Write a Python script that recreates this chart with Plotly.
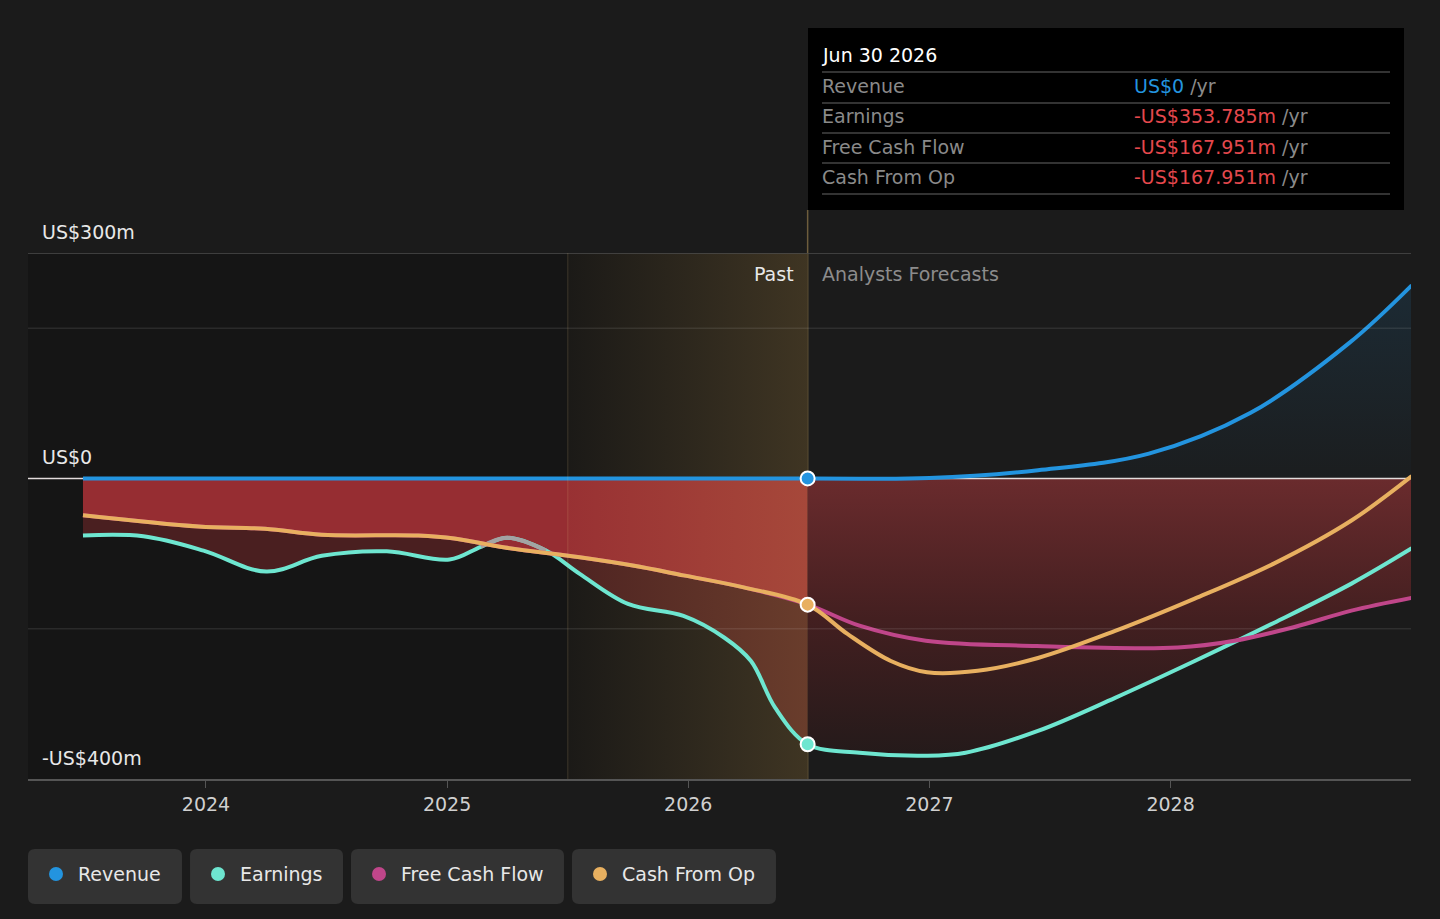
import plotly.graph_objects as go

# --- data (x in decimal years, y in US$ millions) ---
revenue_x = [2023.49, 2026.495, 2027.0, 2027.45, 2027.91, 2028.33, 2028.74, 2029.0]
revenue_y = [0, 0, 0.5, 11, 33, 87, 180, 257]

earnings_x = [2023.49, 2023.74, 2023.99, 2024.25, 2024.48, 2024.75, 2025.01, 2025.14, 2025.25, 2025.41,
              2025.55, 2025.75, 2025.98, 2026.15, 2026.26, 2026.36, 2026.495,
              2026.71, 2026.98, 2027.15, 2027.45, 2027.77, 2028.10, 2028.43, 2028.75, 2029.0]
earnings_y = [-76, -77, -96, -124, -103, -97, -108, -91, -79, -96,
              -127, -167, -183, -212, -243, -305, -353.785,
              -365, -369, -365, -336, -292, -243, -192, -140, -93]

fcf_x = [2023.49, 2023.97, 2024.245, 2024.48, 2024.88, 2025.03, 2025.24, 2025.55, 2025.77, 2025.98, 2026.23, 2026.495,
         2026.71, 2026.985, 2027.445, 2028.03, 2028.265, 2028.51, 2028.75, 2029.0]
fcf_y = [-49, -64, -67, -75, -76, -80, -92, -105, -116, -129, -145, -167.951,
         -196, -216, -223, -225, -216, -198, -176, -159]

cfo_x = [2023.49, 2023.97, 2024.245, 2024.48, 2024.88, 2025.03, 2025.24, 2025.55, 2025.77, 2025.98, 2026.23, 2026.495,
         2026.66, 2026.84, 2026.99, 2027.2, 2027.45, 2027.77, 2028.10, 2028.43, 2028.75, 2029.0]
cfo_y = [-49, -64, -67, -75, -76, -80, -92, -105, -116, -129, -145, -167.951,
         -207, -243, -258, -256, -239, -203, -160, -113, -56, 3]

# earnings points drawn grey where the line rises above cash from op
grey_x = [2025.14, 2025.25, 2025.41]
grey_y = [-91, -79, -96]

series_names = ["Revenue", "Earnings", "Free Cash Flow", "Cash From Op"]
series_colors = ["#2394df", "#6ee6d0", "#c0468a", "#e8b060"]

tooltip_date = "Jun 30 2026"
tooltip_values = ["US$0", "-US$353.785m", "-US$167.951m", "-US$167.951m"]

year_ticks = [2024, 2025, 2026, 2027, 2028]
y_labels = {300: "US$300m", 0: "US$0", -400: "-US$400m"}
grid_vals = [200, -200]

x_range = [2023.262, 2028.997]
y_range = [-400, 300]
band_start = 2025.5
now_x = 2026.495

FONT = "DejaVu Sans"
BG = "#1b1b1b"

# pixel helpers for the plot frame (width 1440, height 919)
L, R, T, B = 28, 1411, 253, 779


def px_x(px):
    return (px - L) / (R - L)


def px_y(py):
    return (B - py) / (B - T)


def rounded_path(x0, y0, x1, y1, r):
    pts = [
        ("M", [(x0 + r, y0)]), ("L", [(x1 - r, y0)]), ("Q", [(x1, y0), (x1, y0 + r)]),
        ("L", [(x1, y1 - r)]), ("Q", [(x1, y1), (x1 - r, y1)]), ("L", [(x0 + r, y1)]),
        ("Q", [(x0, y1), (x0, y1 - r)]), ("L", [(x0, y0 + r)]), ("Q", [(x0, y0), (x0 + r, y0)]),
    ]
    s = ""
    for cmd, ps in pts:
        s += cmd + " " + " ".join(f"{px_x(a):.5f},{px_y(b):.5f}" for a, b in ps) + " "
    return s + "Z"


def split_at(xs, ys, x0):
    i = xs.index(x0)
    return (xs[:i + 1], ys[:i + 1]), (xs[i:], ys[i:])


fig = go.Figure()

(e_past, e_fut) = split_at(earnings_x, earnings_y, now_x)
(c_past, c_fut) = split_at(cfo_x, cfo_y, now_x)
(f_past, f_fut) = split_at(fcf_x, fcf_y, now_x)
(r_past, r_fut) = split_at(revenue_x, revenue_y, now_x)

# --- fills ---
fig.add_trace(go.Scatter(x=e_past[0], y=e_past[1], mode="lines", line=dict(width=0, shape="spline"),
                         fill="tozeroy", fillcolor="#4a1f20", hoverinfo="skip", showlegend=False))
fig.add_trace(go.Scatter(x=c_past[0], y=c_past[1], mode="lines", line=dict(width=0, shape="spline"),
                         fill="tozeroy", fillcolor="#962d32", hoverinfo="skip", showlegend=False))

neg_grad = dict(type="vertical", start=-375, stop=0,
                colorscale=[[0, "#231a1a"], [0.5, "#431f20"], [1, "#6a2b2d"]])
for xs, ys in (e_fut, f_fut):
    fig.add_trace(go.Scatter(x=xs, y=ys, mode="lines", line=dict(width=0, shape="spline"),
                             fill="tozeroy", fillgradient=neg_grad, hoverinfo="skip", showlegend=False))

fig.add_trace(go.Scatter(x=r_fut[0], y=r_fut[1], mode="lines", line=dict(width=0, shape="spline"),
                         fill="tozeroy",
                         fillgradient=dict(type="vertical", start=0, stop=260,
                                           colorscale=[[0, "rgba(35,148,223,0.02)"], [1, "rgba(35,148,223,0.13)"]]),
                         hoverinfo="skip", showlegend=False))

# golden "past" band
fig.add_trace(go.Scatter(x=[band_start, now_x, now_x, band_start, band_start],
                         y=[y_range[0], y_range[0], y_range[1], y_range[1], y_range[0]],
                         mode="lines", line=dict(width=0), fill="toself",
                         fillgradient=dict(type="horizontal", start=band_start, stop=now_x,
                                           colorscale=[[0, "rgba(230,180,90,0.03)"], [1, "rgba(230,180,90,0.2)"]]),
                         hoverinfo="skip", showlegend=False))

# zero line
fig.add_trace(go.Scatter(x=x_range, y=[0, 0], mode="lines", line=dict(color="#e2dcdc", width=1.5),
                         hoverinfo="skip", showlegend=False))

# --- lines ---
fig.add_trace(go.Scatter(x=earnings_x, y=earnings_y, mode="lines", name="Earnings",
                         line=dict(color=series_colors[1], width=4, shape="spline")))
fig.add_trace(go.Scatter(x=grey_x, y=grey_y, mode="lines", showlegend=False, hoverinfo="skip",
                         line=dict(color="#a3a3a3", width=4, shape="spline")))
fig.add_trace(go.Scatter(x=fcf_x, y=fcf_y, mode="lines", name="Free Cash Flow",
                         line=dict(color=series_colors[2], width=4, shape="spline")))
fig.add_trace(go.Scatter(x=cfo_x, y=cfo_y, mode="lines", name="Cash From Op",
                         line=dict(color=series_colors[3], width=4, shape="spline")))
fig.add_trace(go.Scatter(x=revenue_x, y=revenue_y, mode="lines", name="Revenue",
                         line=dict(color=series_colors[0], width=4, shape="spline")))

# markers at the "now" date
for xs, ys, col in ((revenue_x, revenue_y, series_colors[0]), (cfo_x, cfo_y, series_colors[3]),
                    (earnings_x, earnings_y, series_colors[1])):
    i = xs.index(now_x)
    fig.add_trace(go.Scatter(x=[xs[i]], y=[ys[i]], mode="markers", hoverinfo="skip", showlegend=False,
                             marker=dict(size=14, color=col, line=dict(color="white", width=2))))

shapes = []
# darker background for the past
shapes.append(dict(type="rect", xref="x", yref="y", x0=x_range[0], x1=now_x, y0=y_range[0], y1=y_range[1],
                   fillcolor="#151515", line=dict(width=0), layer="below"))
# grid lines drawn over the fills
for g in grid_vals:
    shapes.append(dict(type="line", xref="paper", yref="y", x0=0, x1=1, y0=g, y1=g,
                       line=dict(color="rgba(255,255,255,0.09)", width=1.5), layer="above"))
shapes.append(dict(type="line", xref="paper", yref="y", x0=0, x1=1, y0=y_range[1], y1=y_range[1],
                   line=dict(color="#4d4d4d", width=1.5), layer="above"))
# band edges
shapes.append(dict(type="line", xref="x", yref="y", x0=band_start, x1=band_start, y0=y_range[0], y1=y_range[1],
                   line=dict(color="rgba(230,200,130,0.12)", width=1.5), layer="above"))
shapes.append(dict(type="line", xref="x", yref="paper", x0=now_x, x1=now_x, y0=0, y1=px_y(210),
                   line=dict(color="#6e5d3c", width=1.5), layer="below"))

# tooltip box
shapes.append(dict(type="rect", xref="paper", yref="paper", x0=px_x(808), x1=px_x(1404), y0=px_y(210), y1=px_y(28),
                   fillcolor="#000000", line=dict(width=0), layer="above"))
for sy in (72, 103, 133, 163, 194):
    shapes.append(dict(type="line", xref="paper", yref="paper", x0=px_x(822), x1=px_x(1390), y0=px_y(sy), y1=px_y(sy),
                       line=dict(color="#444444", width=1.5), layer="above"))

annotations = []
annotations.append(dict(xref="paper", yref="paper", x=px_x(820), y=px_y(55), xanchor="left", yanchor="middle",
                        text=tooltip_date, showarrow=False, font=dict(family=FONT, size=19, color="#ffffff")))
row_y = [86, 116, 147, 177]
for name, val, ry, col in zip(series_names, tooltip_values, row_y, series_colors):
    vcol = "#2394df" if not val.startswith("-") else "#e5484d"
    annotations.append(dict(xref="paper", yref="paper", x=px_x(820), y=px_y(ry), xanchor="left", yanchor="middle",
                            text=name, showarrow=False, font=dict(family=FONT, size=19, color="#8a8a8a")))
    annotations.append(dict(xref="paper", yref="paper", x=px_x(1132), y=px_y(ry), xanchor="left", yanchor="middle",
                            text=f"<span style='color:{vcol}'>{val}</span> /yr", showarrow=False,
                            font=dict(family=FONT, size=19, color="#8a8a8a")))

# y labels above their lines
for val, txt in y_labels.items():
    annotations.append(dict(xref="paper", yref="y", x=px_x(40), y=val, xanchor="left", yanchor="bottom",
                            yshift=8, text=txt, showarrow=False, font=dict(family=FONT, size=19, color="#e8e8e8")))

annotations.append(dict(xref="x", yref="y", x=now_x, y=y_range[1], xanchor="right", yanchor="top", xshift=-12, yshift=-8,
                        text="Past", showarrow=False, font=dict(family=FONT, size=19, color="#e8e8e8")))
annotations.append(dict(xref="x", yref="y", x=now_x, y=y_range[1], xanchor="left", yanchor="top", xshift=12, yshift=-8,
                        text="Analysts Forecasts", showarrow=False, font=dict(family=FONT, size=19, color="#8c8c8c")))

# legend chips
chips = [(28, 182), (190, 343), (351, 564), (572, 776)]
for (cx0, cx1), name, col in zip(chips, series_names, series_colors):
    shapes.append(dict(type="path", xref="paper", yref="paper", path=rounded_path(cx0, 849, cx1, 904, 7),
                       fillcolor="#333333", line=dict(width=0)))
    shapes.append(dict(type="circle", xref="paper", yref="paper", x0=px_x(cx0 + 21), x1=px_x(cx0 + 35),
                       y0=px_y(881), y1=px_y(867), fillcolor=col, line=dict(width=0)))
    annotations.append(dict(xref="paper", yref="paper", x=px_x(cx0 + 48), y=px_y(874), xanchor="left", yanchor="middle",
                            text=name, showarrow=False, font=dict(family=FONT, size=19, color="#e8e8e8")))

fig.update_layout(
    width=1440, height=919,
    margin=dict(l=L, r=1440 - R, t=T, b=919 - B),
    paper_bgcolor=BG, plot_bgcolor=BG,
    showlegend=False,
    shapes=shapes, annotations=annotations,
    font=dict(family=FONT, color="#d0d0d0"),
)
fig.update_xaxes(range=x_range, tickvals=year_ticks, ticktext=[str(t) for t in year_ticks],
                 showgrid=False, zeroline=False, showline=True, linecolor="#555555", linewidth=1.5,
                 ticks="outside", ticklen=7, tickcolor="#555555", tickfont=dict(size=19, color="#d0d0d0"))
fig.update_yaxes(range=y_range, showgrid=False, zeroline=False, showticklabels=False)

# drop the default page margin so the figure sits flush in the window
fig.write_html("out.html", config={"displayModeBar": False},
               post_script="document.body.style.margin='0';document.body.style.background='#1b1b1b';")
